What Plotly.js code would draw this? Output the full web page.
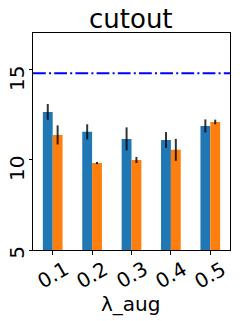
<!DOCTYPE html>
<html><head><meta charset="utf-8">
<script src="https://cdn.plot.ly/plotly-3.0.1.min.js"></script>
<style>html,body{margin:0;padding:0;background:#fff}#c{width:240px;height:321px}</style>
</head><body><div id="c"></div>
<script>
const categories = ['0.1', '0.2', '0.3', '0.4', '0.5'];
const seriesA = [12.67, 11.56, 11.17, 11.11, 11.89];
const errA = [0.44, 0.42, 0.64, 0.44, 0.36];
const seriesB = [11.39, 9.83, 10.0, 10.56, 12.11];
const errB = [0.53, 0.06, 0.17, 0.61, 0.13];
const refLine = 14.82;
const yTicks = [5, 10, 15];
const titleText = 'cutout';
const xTitleText = 'λ_aug';

const font = 'DejaVu Sans, sans-serif';
const errStyle = {type: 'data', visible: true, thickness: 2, width: 0, color: 'rgba(0,0,0,0.8)'};
const data = [
  {type: 'bar', x: categories, y: seriesA, marker: {color: '#1f77b4'},
   error_y: Object.assign({array: errA}, errStyle)},
  {type: 'bar', x: categories, y: seriesB, marker: {color: '#ff7f0e'},
   error_y: Object.assign({array: errB}, errStyle)}
];

const annotations = [];
categories.forEach((c, i) => annotations.push({
  text: c, x: i, xref: 'x', y: -0.114, yref: 'paper',
  xanchor: 'center', yanchor: 'middle', showarrow: false, textangle: -30,
  font: {family: font, size: 20, color: '#000'}
}));
yTicks.forEach(v => {
  const s = String(v);
  annotations.push({
    text: s, x: -0.082, xref: 'paper', y: v, yref: 'y',
    yshift: -(s.length * 6.35 - 4.5),
    xanchor: 'center', yanchor: 'middle', showarrow: false, textangle: -90,
    font: {family: font, size: 20, color: '#000'}
  });
});
annotations.push({
  text: xTitleText, x: 0.495, xref: 'paper', y: -0.25, yref: 'paper',
  xanchor: 'center', yanchor: 'middle', showarrow: false,
  font: {family: font, size: 20, color: '#000'}
});

const layout = {
  width: 240, height: 321,
  margin: {l: 33, r: 10, t: 33, b: 71},
  paper_bgcolor: '#fff', plot_bgcolor: '#fff',
  showlegend: false,
  barmode: 'group', bargap: 0.5, bargroupgap: 0,
  font: {family: font, color: '#000'},
  title: {text: titleText, font: {family: font, size: 26, color: '#000'}, x: 0.545, xanchor: 'center', y: 0.912, yanchor: 'bottom'},
  xaxis: {
    type: 'category', range: [-0.5, 4.5],
    showline: true, mirror: true, linecolor: '#000', linewidth: 1,
    ticks: 'outside', ticklen: 3.5, tickcolor: '#000',
    showticklabels: false, showgrid: false, zeroline: false
  },
  yaxis: {
    range: [5, 17.05], tickvals: yTicks,
    showline: true, mirror: true, linecolor: '#000', linewidth: 1,
    ticks: 'outside', ticklen: 3.5, tickcolor: '#000',
    showticklabels: false, showgrid: false, zeroline: false
  },
  annotations: annotations,
  shapes: [{type: 'line', xref: 'paper', x0: 0, x1: 1, yref: 'y', y0: refLine, y1: refLine,
    line: {color: '#0000ff', width: 2, dash: '12.8px,3.2px,2px,3.2px'}}]
};
Plotly.newPlot('c', data, layout, {displayModeBar: false, staticPlot: true});
</script></body></html>
